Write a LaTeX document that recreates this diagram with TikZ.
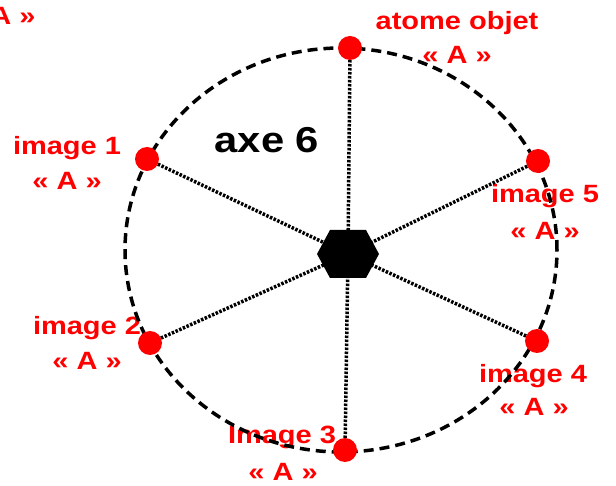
\documentclass[tikz,border=0pt]{standalone}
\usepackage{fontspec}
\newfontfamily\labfont{Liberation Sans}[FakeStretch=1.16]
\definecolor{labred}{RGB}{255,0,0}
\begin{document}
\begin{tikzpicture}[x=1pt,y=-1pt,
  lab/.style={text=labred,font=\labfont\bfseries\fontsize{25}{25}\selectfont,inner sep=0,anchor=base},
  axelab/.style={text=black,font=\labfont\bfseries\fontsize{36}{36}\selectfont,inner sep=0,anchor=base},
  dotnode/.style={circle,fill=labred,minimum size=24pt,inner sep=0},
  spoke/.style={line width=3.5pt,dash pattern=on 2.5pt off 1.5pt},
  ring/.style={line width=3.5pt,dash pattern=on 10pt off 6pt}]
\useasboundingbox (0,0) rectangle (616,486);
\clip (0,0) rectangle (616,486);
% labels
\node[lab] (tx) at (1,25) {« A »};
\node[lab] (t0) at (457,30) {atome objet};
\node[lab] (t0a) at (457,64) {« A »};
\node[lab] (t1) at (67,155) {image 1};
\node[lab] (t1a) at (67,190) {« A »};
\node[lab] (t2) at (87,335) {image 2};
\node[lab] (t2a) at (87,370) {« A »};
\node[lab] (t3) at (282,443) {Image 3};
\node[lab] (t3a) at (283,480) {« A »};
\node[lab] (t4) at (533,382) {image 4};
\node[lab] (t4a) at (534,415) {« A »};
\node[lab] (t5) at (545,203) {image 5};
\node[lab] (t5a) at (545,240) {« A »};
\node[axelab] (axe) at (267,153) {axe 6};
% ring
\draw[ring] (341,250) ellipse [x radius=216pt, y radius=202pt];
% positions
\coordinate (c) at (348,254);
\coordinate (p0) at (350,48);
\coordinate (p1) at (147,159);
\coordinate (p2) at (150,343);
\coordinate (p3) at (345,450);
\coordinate (p4) at (537,341);
\coordinate (p5) at (538,161);
% spokes
\foreach \i in {0,...,5} \draw[spoke] (p\i) -- (c);
% hexagon
\fill ([shift={(-31,0)}]c) -- ([shift={(-18,-24)}]c) -- ([shift={(18,-24)}]c) -- ([shift={(31,0)}]c) -- ([shift={(18,24)}]c) -- ([shift={(-18,24)}]c) -- cycle;
% dots
\foreach \i in {0,...,5} \node[dotnode] (d\i) at (p\i) {};
\end{tikzpicture}
\end{document}
